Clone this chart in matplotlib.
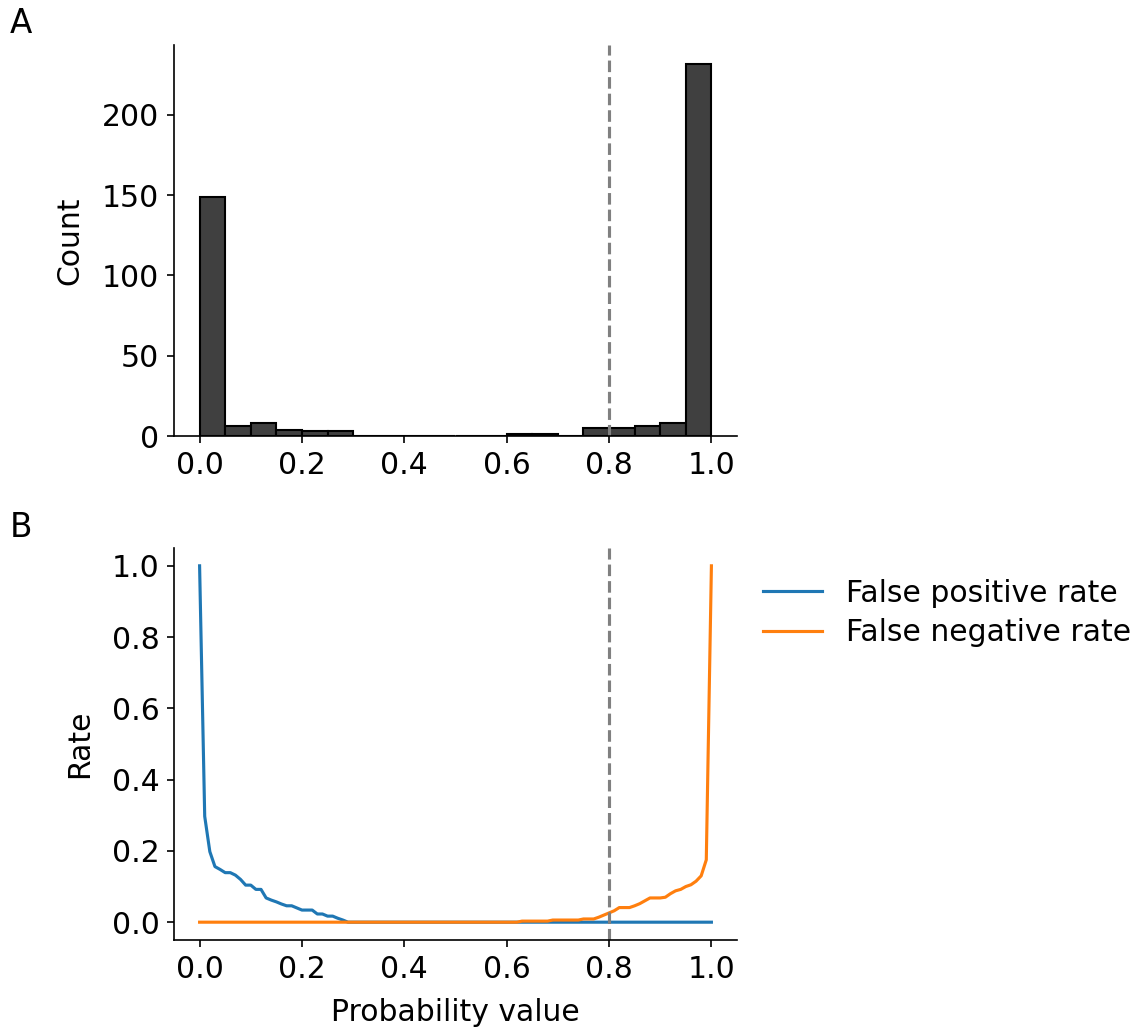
import numpy as np
import matplotlib
matplotlib.use("Agg")
import matplotlib.pyplot as plt

# Histogram data (bin edges 0..1 in 0.05 steps)
bin_edges = [round(i * 0.05, 2) for i in range(21)]
bin_counts = [149, 6, 8, 4, 3, 3, 0, 0, 0, 0, 0, 0, 1, 1, 0, 5, 5, 6, 8, 232]

# Threshold curve data
thresholds = [round(i * 0.01, 2) for i in range(101)]
fpr_head = [1.0, 0.297, 0.198, 0.156, 0.148, 0.139, 0.139, 0.132, 0.12, 0.104,
            0.104, 0.092, 0.092, 0.068, 0.062, 0.057, 0.051, 0.046, 0.046, 0.04,
            0.034, 0.034, 0.034, 0.023, 0.023, 0.017, 0.017, 0.011, 0.006]
fpr = fpr_head + [0.0] * (101 - len(fpr_head))
fnr_tail = [0.003, 0.003, 0.003, 0.003, 0.003, 0.003,          # 0.63-0.68
            0.006, 0.006, 0.006, 0.006, 0.006, 0.006,          # 0.69-0.74
            0.009, 0.009, 0.009, 0.014, 0.02,                  # 0.75-0.79
            0.026, 0.032, 0.041, 0.041, 0.041, 0.046, 0.052, 0.06, 0.068, 0.068,  # 0.80-0.89
            0.068, 0.07, 0.08, 0.088, 0.092, 0.10, 0.105, 0.115, 0.13, 0.175,     # 0.90-0.99
            1.0]
fnr = [0.0] * (101 - len(fnr_tail)) + fnr_tail
threshold_line = 0.8

S = 1.5
FS = 21.5
plt.rcParams['font.family'] = ['DejaVu Sans']
plt.rcParams['font.size'] = FS
plt.rcParams['axes.linewidth'] = 0.8 * S
plt.rcParams['axes.labelpad'] = 4.0 * S
for ax_ in ('xtick', 'ytick'):
    plt.rcParams[f'{ax_}.major.size'] = 3.5 * S
    plt.rcParams[f'{ax_}.major.width'] = 0.8 * S
    plt.rcParams[f'{ax_}.major.pad'] = 3.5 * S
    plt.rcParams[f'{ax_}.labelsize'] = FS

fig = plt.figure(figsize=(11.45, 10.32), dpi=100)
W, H = 1145, 1032
axA = fig.add_axes([174 / W, 1 - 436 / H, (737 - 174) / W, (436 - 45) / H])
axB = fig.add_axes([174 / W, 1 - 940 / H, (737 - 174) / W, (940 - 548) / H])

axA.hist(bin_edges[:-1], bins=bin_edges, weights=bin_counts,
         color='#404040', edgecolor='black', linewidth=1.0 * S)
axA.axvline(threshold_line, color='grey', linestyle='--', linewidth=1.5 * S)
axA.set_ylabel('Count', labelpad=12.5)
axA.set_xticks([0, 0.2, 0.4, 0.6, 0.8, 1.0])
axA.set_yticks([0, 50, 100, 150, 200])
axA.set_xlim(-0.05, 1.05)

axB.plot(thresholds, fpr, color='#1f77b4', linewidth=1.5 * S, label='False positive rate')
axB.plot(thresholds, fnr, color='#ff7f0e', linewidth=1.5 * S, label='False negative rate')
axB.axvline(threshold_line, color='grey', linestyle='--', linewidth=1.5 * S)
axB.set_ylabel('Rate', labelpad=12.5)
axB.set_xlabel('Probability value', labelpad=10.5)
axB.set_xticks([0, 0.2, 0.4, 0.6, 0.8, 1.0])
axB.set_yticks([0, 0.2, 0.4, 0.6, 0.8, 1.0])
axB.set_xlim(-0.05, 1.05)
axB.set_ylim(-0.05, 1.05)
axB.legend(loc='upper left', bbox_to_anchor=(0.998, 0.99), frameon=False,
           handlelength=2.0, labelspacing=0.35, fontsize=FS)

for ax in (axA, axB):
    ax.spines['top'].set_visible(False)
    ax.spines['right'].set_visible(False)

fig.text(10 / W, 1 - 33 / H, 'A', fontsize=23.5, ha='left', va='baseline')
fig.text(10 / W, 1 - 537 / H, 'B', fontsize=23.5, ha='left', va='baseline')

fig.savefig('out.png', dpi=100)
